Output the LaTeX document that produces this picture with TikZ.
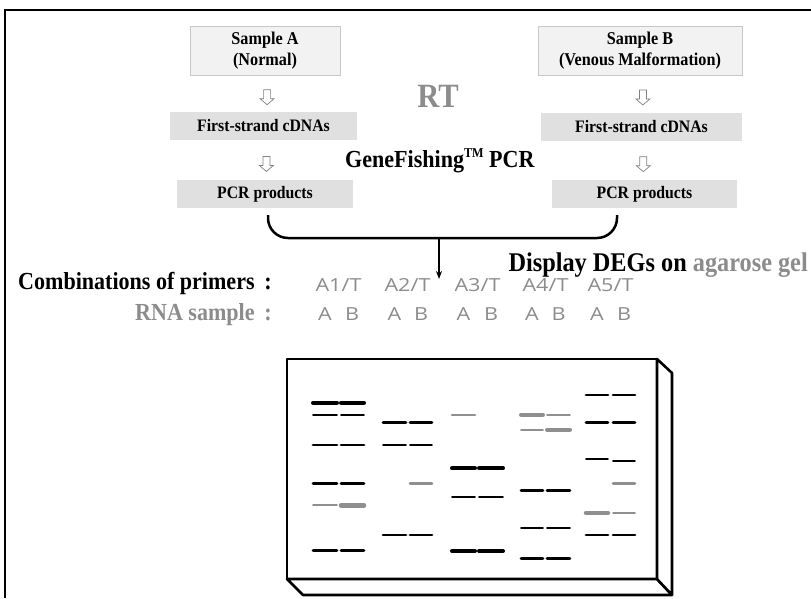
\documentclass[tikz,border=0pt]{standalone}
\usepackage{fontspec}
\setmainfont{Liberation Serif}
\newfontfamily\narrowserif[FakeStretch=0.9]{Liberation Serif}
\newfontfamily\lanefont[FakeStretch=1.2]{Open Sans}
\usetikzlibrary{arrows.meta,calc}
\definecolor{boxfill}{HTML}{F2F2F2}
\definecolor{boxline}{HTML}{C8C8C8}
\definecolor{stepfill}{HTML}{E0E0E0}
\definecolor{softgray}{HTML}{8C8C8C}
\definecolor{bandgray}{HTML}{8F8F8F}

\begin{document}
\begin{tikzpicture}[x=1pt,y=-1pt,
  samplebox/.style={draw=boxline, fill=boxfill, line width=0.6pt, align=center,
    inner sep=0pt, font=\narrowserif\bfseries\fontsize{18}{21}\selectfont},
  stepbox/.style={fill=stepfill, inner sep=0pt, font=\narrowserif\bfseries\fontsize{17.5}{19}\selectfont},
  hollowdown/.pic={\draw[draw=gray, fill=white, line width=0.7pt]
    (-3.5,-7.5) -- (-3.5,1.5) -- (-7,1.5) -- (0,7.5) -- (7,1.5) -- (3.5,1.5) -- (3.5,-7.5) -- cycle;},
  bigtext/.style={inner sep=0pt, font=\narrowserif\bfseries\fontsize{24.5}{27}\selectfont},
  lanelabel/.style={inner sep=0pt, text=softgray, font=\lanefont\fontsize{18}{20}\selectfont},
  band/.style={line cap=round},
  bthick/.style={band, line width=4pt},
  bmed/.style={band, line width=2.8pt},
  bthin/.style={band, line width=1.7pt},
  blk/.style={draw=black},
  gry/.style={draw=bandgray},
]
\useasboundingbox (0,0) rectangle (811,598);

% outer frame
\draw[line width=1.2pt] (5,598) -- (5,10) -- (811,10);

% samples and preparation steps
\node[samplebox, minimum width=150pt, minimum height=49pt] (sa) at (265,50.5) {Sample A\\(Normal)};
\node[samplebox, minimum width=204pt, minimum height=49pt] (sb) at (640,50.5) {Sample B\\(Venous Malformation)};
\node[stepbox, minimum width=187pt, minimum height=28pt] (fa) at (263.5,126) {First-strand cDNAs};
\node[stepbox, minimum width=201pt, minimum height=28pt] (fb) at (641.5,126.5) {First-strand cDNAs};
\node[stepbox, minimum width=176pt, minimum height=28pt] (pa) at (265,194) {PCR products};
\node[stepbox, minimum width=185pt, minimum height=28pt] (pb) at (644.5,194) {PCR products};

\pic at ($(sa.south)!0.6!(fa.north)+(3,0)$) {hollowdown};
\pic at ($(sb.south)!0.6!(fb.north)+(2,0)$) {hollowdown};
\pic at ($(fa.south)!0.6!(pa.north)+(2,0)$) {hollowdown};
\pic at ($(fb.south)!0.6!(pb.north)$) {hollowdown};

\node[inner sep=0pt, text=softgray, font=\narrowserif\bfseries\fontsize{34}{36}\selectfont] (rt) at (438,96) {RT};
\node[inner sep=0pt, anchor=base west, font=\narrowserif\bfseries\fontsize{24.5}{27}\selectfont] (gf) at (345,167)
  {GeneFishing\raisebox{0.4em}{\fontsize{13.5}{14}\selectfont TM} PCR};

% pooling bracket and arrow to the gel
\coordinate (bl) at (268,215);
\coordinate (br) at (617,215);
\coordinate (bm) at (439,238);
\coordinate (bt) at (439,279);
\draw[line width=2.5pt, rounded corners=20pt] (bl) -- (bl |- bm) -- (br |- bm) -- (br);
\draw[line width=2pt, -{Stealth[length=8pt,width=6pt]}] (bm) -- (bt);

\node[bigtext, anchor=base east, font=\narrowserif\bfseries\fontsize{27}{29}\selectfont] (deg) at (808,271)
  {Display DEGs on \textcolor{softgray}{agarose gel}};

\node[bigtext, anchor=base east] (comb) at (272,289) {Combinations of primers\hspace{0.4em}:};
\node[bigtext, anchor=base east, text=softgray] (rna) at (272,320) {RNA sample\hspace{0.4em}:};

% lane labels
\foreach \x [count=\i] in {338.5, 407.5, 477.5, 545.5, 610.5}
  \node[lanelabel] at (\x,285) {A\i/T};
\foreach \xa/\xb in {325/352, 394.5/421, 463.5/491, 532/558.5, 597/624}{
  \node[lanelabel] at (\xa,314) {A};
  \node[lanelabel] at (\xb,314) {B};
}

% gel slab
\draw[line width=2.6pt, line join=round, fill=white]
  (287,579) -- (303,595) -- (672,595) -- (657,579) -- cycle;
\draw[line width=2.6pt, line join=round, fill=white]
  (657,359) -- (672,373) -- (672,595) -- (657,579) -- cycle;
\draw[line width=2.8pt, line join=round] (287,359) rectangle (657,579);

% bands: lane 1
\draw[bthick,blk] (313,402.7) -- (337,402.7) (341,402.7) -- (364,402.7);
\draw[bthin,blk]  (313,415.3) -- (337,415.3) (341,415.3) -- (364,415.3);
\draw[bmed,blk]   (313,445) -- (337,445) (341,445) -- (364,445);
\draw[bmed,blk]   (313,483.3) -- (337,483.3) (341,483.3) -- (364,483.3);
\draw[bthin,gry]  (313,505.3) -- (337,505.3);
\draw[bthick,gry,line width=4.5pt] (341,505.3) -- (364,505.3);
\draw[bmed,blk]   (313,550.7) -- (337,550.7) (341,550.7) -- (364,550.7);
% lane 2
\draw[bmed,blk]   (383,422.3) -- (406,422.3) (410,422.3) -- (432,422.3);
\draw[bthin,blk]  (383,445.3) -- (406,445.3) (410,445.3) -- (432,445.3);
\draw[bmed,gry]   (410,483.3) -- (432,483.3);
\draw[bmed,blk]   (383,535) -- (406,535) (410,535) -- (432,535);
% lane 3
\draw[bmed,gry]   (452,415) -- (475,415);
\draw[bthick,blk] (452,468.3) -- (475,468.3) (479,468.3) -- (503,468.3);
\draw[bthin,blk]  (452,497.3) -- (475,497.3) (479,497.3) -- (503,497.3);
\draw[bthick,blk] (452,551) -- (475,551) (479,551) -- (503,551);
% lane 4
\draw[bthick,gry] (521,414.7) -- (543,414.7);
\draw[bthin,gry]  (547,414.7) -- (570,414.7);
\draw[bthin,gry]  (521,429.7) -- (543,429.7);
\draw[bthick,gry] (547,429.7) -- (570,429.7);
\draw[bmed,blk]   (521,490.3) -- (543,490.3) (547,490.3) -- (570,490.3);
\draw[bthin,blk]  (521,528) -- (543,528) (547,528) -- (570,528);
\draw[bmed,blk]   (521,558.3) -- (543,558.3) (547,558.3) -- (570,558.3);
% lane 5
\draw[bmed,blk]   (586,395) -- (608,395) (613,395) -- (635,395);
\draw[bmed,blk]   (586,422.3) -- (608,422.3) (613,422.3) -- (635,422.3);
\draw[bthin,blk]  (586,459.3) -- (608,459.3) (613,461) -- (635,461);
\draw[bmed,gry]   (613,483.3) -- (635,483.3);
\draw[bthick,gry,line width=4.5pt] (586,513) -- (608,513);
\draw[bthin,gry]  (613,513) -- (635,513);
\draw[bmed,blk]   (586,535) -- (608,535) (613,535) -- (635,535);
\end{tikzpicture}
\end{document}
